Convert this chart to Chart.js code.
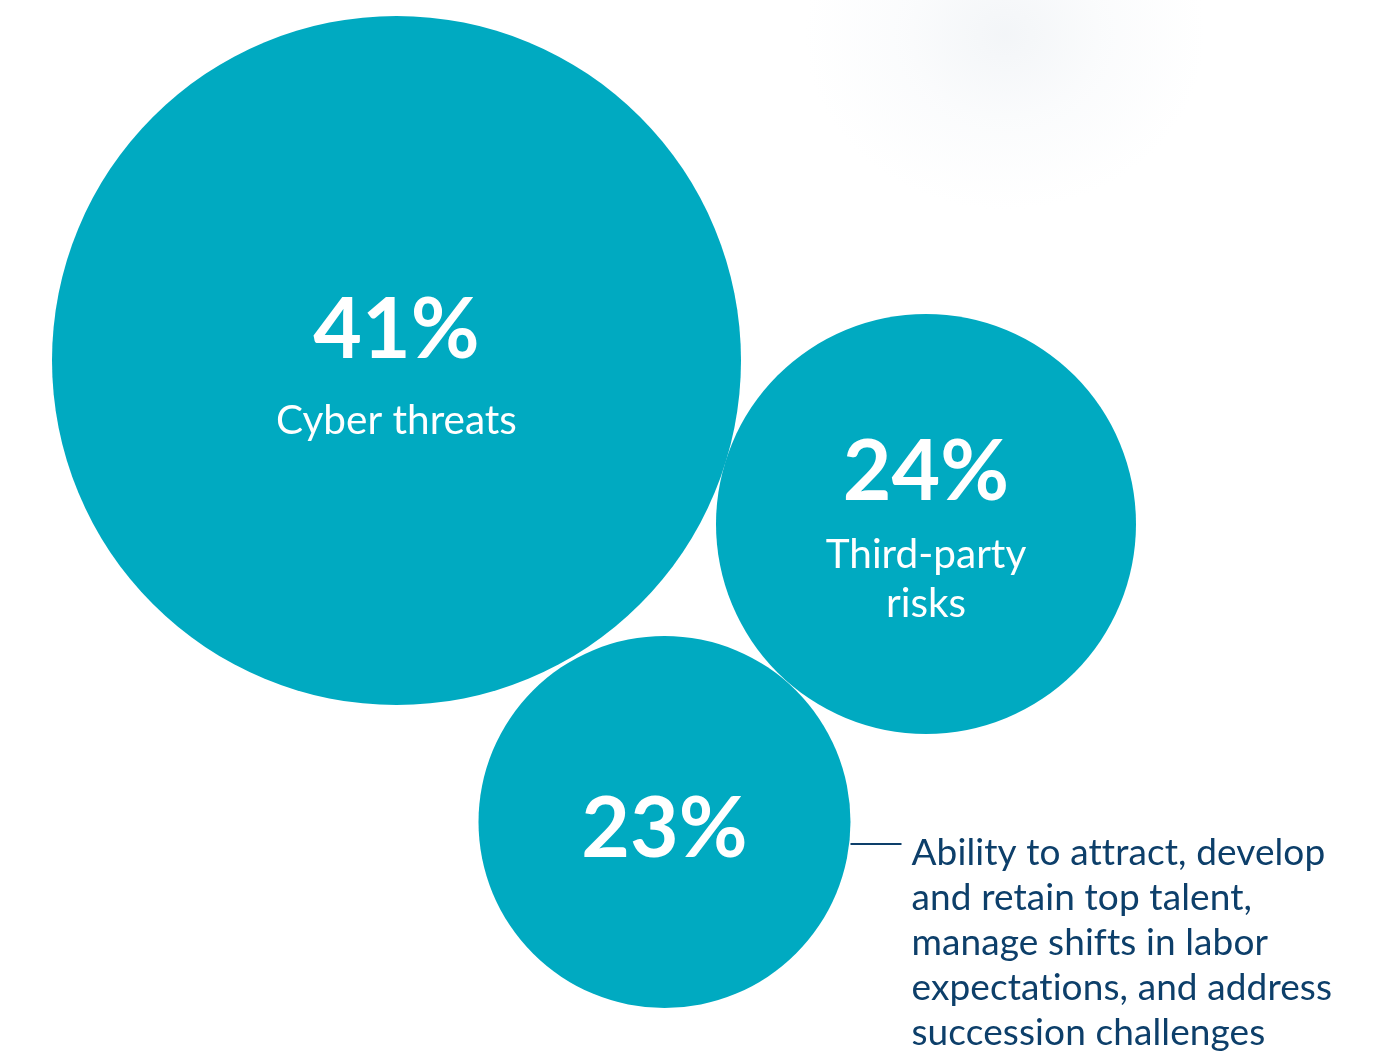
<!DOCTYPE html>
<html>
<head>
<meta charset="utf-8">
<script src="https://cdn.jsdelivr.net/npm/chart.js@4/dist/chart.umd.min.js"></script>
<style>
  html, body { margin: 0; padding: 0; background: #ffffff; }
  body {
    width: 1389px; height: 1053px; overflow: hidden;
    background: radial-gradient(ellipse 200px 175px at 1005px 35px, rgba(240,243,246,0.8) 0%, rgba(246,248,250,0.5) 50%, rgba(255,255,255,0) 100%), #ffffff;
  }
  #wrap { position: absolute; left: 0; top: 0; width: 1389px; height: 1053px; }
</style>
</head>
<body>
<div id="wrap"><canvas id="c" width="1389" height="1053"></canvas></div>
<script>
// ---- data ----
const categories = ["Cyber threats", "Third-party risks", "Ability to attract, develop and retain top talent, manage shifts in labor expectations, and address succession challenges"];
const values = [41, 24, 23];
const valueLabels = ["41%", "24%", "23%"];
const innerLabels = [["Cyber threats"], ["Third-party", "risks"], []];
const calloutLines = ["Ability to attract, develop", "and retain top talent,", "manage shifts in labor", "expectations, and address", "succession challenges"];

// ---- layout (packing positions in chart units, radii in px) ----
const layoutX = [396.5, 926, 664.5];
const layoutY = [360.5, 524, 822];
const layoutR = [344.5, 210, 186];

const TEAL = "#00AAC1";
const NAVY = "#0D3F6A";

const points = values.map((v, i) => ({ x: layoutX[i], y: layoutY[i], r: layoutR[i], v: v }));

const labelPlugin = {
  id: "bubbleLabels",
  afterDatasetsDraw(chart) {
    const ctx = chart.ctx;
    const meta = chart.getDatasetMeta(0);
    ctx.save();
    ctx.fillStyle = "#ffffff";
    ctx.textAlign = "center";
    ctx.textBaseline = "alphabetic";
    const valueOff = [-2.5, -24, 35];
    const labelOff = [[73], [44, 93], []];
    meta.data.forEach((el, i) => {
      const cx = el.x, cy = el.y;
      ctx.font = "bold 84px Lato";
      ctx.fillText(valueLabels[i], cx, cy + valueOff[i]);
      ctx.font = "40.5px Lato";
      innerLabels[i].forEach((t, j) => ctx.fillText(t, cx, cy + labelOff[i][j]));
    });
    const el = meta.data[2];
    const r = el.options.radius;
    const lx0 = el.x + r;
    const ly = el.y + 22;
    ctx.strokeStyle = NAVY;
    ctx.lineWidth = 2;
    ctx.beginPath();
    ctx.moveTo(lx0, ly);
    ctx.lineTo(lx0 + 51, ly);
    ctx.stroke();
    ctx.fillStyle = NAVY;
    ctx.textAlign = "left";
    ctx.font = "37px Lato";
    try { ctx.letterSpacing = "0.1px"; } catch (e) {}
    calloutLines.forEach((t, k) => ctx.fillText(t, lx0 + 61, el.y + 43 + k * 45));
    ctx.restore();
  }
};

new Chart(document.getElementById("c"), {
  type: "bubble",
  data: {
    labels: categories,
    datasets: [{
      data: points,
      backgroundColor: TEAL,
      borderWidth: 0,
      hoverBackgroundColor: TEAL,
      hoverBorderWidth: 0,
      clip: false
    }]
  },
  options: {
    responsive: false,
    animation: false,
    events: [],
    layout: { padding: 0, autoPadding: false },
    plugins: { legend: { display: false }, tooltip: { enabled: false } },
    scales: {
      x: { type: "linear", min: 0, max: 1389, display: false },
      y: { type: "linear", min: 0, max: 1053, reverse: true, display: false }
    }
  },
  plugins: [labelPlugin]
});
</script>
</body>
</html>
